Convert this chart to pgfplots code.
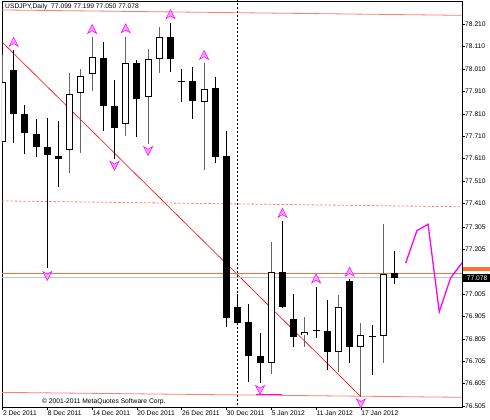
\documentclass[border=0pt]{standalone}
\usepackage{fontspec}
\setmainfont{Liberation Sans}
\usepackage{pgfplots}
\pgfplotsset{compat=1.18}
\usepackage{pgfplotstable}

\definecolor{salmonc}{RGB}{248,128,114}
\definecolor{orangec}{RGB}{255,110,50}
\definecolor{bidgray}{RGB}{195,195,195}
\definecolor{bullwick}{RGB}{100,100,100}
\definecolor{fractal}{RGB}{255,0,255}
\definecolor{fractalfill}{RGB}{255,160,255}

\pgfdeclareplotmark{fup}{%
 \pgfpathmoveto{\pgfqpoint{0pt}{4.5pt}}%
 \pgfpathlineto{\pgfqpoint{4.5pt}{-4.5pt}}%
 \pgfpathlineto{\pgfqpoint{0pt}{-1.8pt}}%
 \pgfpathlineto{\pgfqpoint{-4.5pt}{-4.5pt}}%
 \pgfpathclose\pgfusepathqfillstroke}
\pgfdeclareplotmark{fdown}{%
 \pgfpathmoveto{\pgfqpoint{0pt}{-4.5pt}}%
 \pgfpathlineto{\pgfqpoint{4.5pt}{4.5pt}}%
 \pgfpathlineto{\pgfqpoint{0pt}{1.8pt}}%
 \pgfpathlineto{\pgfqpoint{-4.5pt}{4.5pt}}%
 \pgfpathclose\pgfusepathqfillstroke}

\pgfplotstableread{
i  O      H      L      C
0  77.686 78.073 77.678 77.954
6  77.649 77.994 77.544 77.899
7  77.902 78.009 77.636 77.979
8  77.987 78.155 77.913 78.065
11 77.763 78.155 77.711 78.036
13 77.887 78.098 77.674 78.054
14 78.054 78.197 77.994 78.155
18 77.864 78.036 77.559 77.924
24 76.699 77.236 76.648 77.105
27 76.822 76.901 76.770 76.834
30 76.748 77.001 76.658 76.949
32 76.767 76.874 76.547 76.822
34 76.819 77.317 76.696 77.095
}\bull

\pgfplotstableread{
i  O      H      L      C
1  78.009 78.095 77.681 77.809
2  77.809 77.850 77.629 77.726
3  77.723 77.786 77.616 77.663
4  77.661 77.790 77.120 77.626
5  77.622 77.778 77.485 77.608
9  78.061 78.132 77.733 77.846
10 77.846 77.961 77.607 77.748
12 78.038 78.051 77.708 77.879
15 78.152 78.214 77.998 78.058
16 77.959 78.012 77.864 77.955
17 77.957 78.021 77.786 77.867
19 77.924 77.976 77.592 77.619
20 77.623 77.735 76.857 76.901
21 76.949 77.005 76.867 76.879
22 76.882 76.961 76.614 76.728
23 76.728 76.830 76.607 76.696
25 77.105 77.333 76.941 76.949
26 76.894 77.004 76.767 76.815
28 76.846 77.035 76.808 76.842
29 76.841 76.979 76.666 76.748
31 77.064 77.072 76.696 76.770
33 76.820 76.867 76.644 76.815
35 77.099 77.199 77.050 77.078
}\bear

\newcommand{\mtfont}{\fontsize{6.7}{8}\selectfont}

\begin{document}
\begin{tikzpicture}
\useasboundingbox (-2pt,-13pt) rectangle (488pt,407pt);
\begin{axis}[
  scale only axis, width=460pt, height=406pt,
  at={(0pt,0pt)}, anchor=south west,
  xmin=-0.045, xmax=41.03, ymin=76.5007, ymax=78.314,
  axis line style={black, line width=0.8pt},
  xtick={0,4,8,12,16,20,24,28,32},
  xticklabels={2 Dec 2011,8 Dec 2011,14 Dec 2011,20 Dec 2011,26 Dec 2011,30 Dec 2011,5 Jan 2012,11 Jan 2012,17 Jan 2012},
  xticklabel style={anchor=north west, inner sep=0pt, font=\mtfont, xshift=0.3pt, yshift=-1pt},
  ytick={76.505,76.605,76.705,76.805,76.905,77.005,77.205,77.305,77.410,77.510,77.610,77.710,77.810,77.910,78.010,78.110,78.210},
  yticklabels={76.505,76.605,76.705,76.805,76.905,77.005,77.205,77.305,77.410,77.510,77.610,77.710,77.810,77.910,78.010,78.110,78.210},
  yticklabel pos=right,
  yticklabel style={anchor=west, inner sep=0pt, font=\mtfont},
  xtick pos=left, ytick pos=right,
  tick align=outside, major tick length=3pt,
  tick style={black, line width=0.6pt},
  candle/.style={only marks, mark=*, mark size=0pt, mark options={draw=none, fill=none},
    error bars/.cd, y dir=both, y explicit, error mark=none},
]
% regression channel
\addplot[salmonc, line width=0.8pt] coordinates {(-0.05,78.274) (41.05,78.250)};
\addplot[salmonc, line width=0.8pt, dash pattern=on 2.5pt off 1.8pt] coordinates {(-0.05,77.421) (41.05,77.395)};
\addplot[salmonc, line width=0.8pt] coordinates {(-0.05,76.566) (41.05,76.544)};
% trendline
\addplot[red, line width=0.6pt] coordinates {(-0.045,78.131) (32,76.547)};
% horizontal lines
\addplot[bidgray, line width=0.7pt] coordinates {(-0.05,77.078) (41.05,77.078)};
\addplot[orangec, line width=1.2pt] coordinates {(-0.05,77.097) (41.05,77.097)};
% period separator
\addplot[black, line width=0.6pt, dash pattern=on 2pt off 2pt] coordinates {(21,76.49) (21,78.33)};
% bull candles
\addplot[candle, error bar style={bullwick, line width=1pt}]
  table[x=i, y=O, y error plus expr={\thisrow{H}-\thisrow{O}}, y error minus expr={\thisrow{O}-\thisrow{L}}] {\bull};
\addplot[candle, error bar style={black, line width=7pt}]
  table[x=i, y expr={(\thisrow{O}+\thisrow{C})/2}, y error expr={(\thisrow{C}-\thisrow{O})/2}] {\bull};
\addplot[candle, error bar style={white, line width=5pt}]
  table[x=i, y expr={(\thisrow{O}+\thisrow{C})/2}, y error expr={(\thisrow{C}-\thisrow{O})/2-0.0045}] {\bull};
% bear candles
\addplot[candle, error bar style={black, line width=1pt}]
  table[x=i, y=O, y error plus expr={\thisrow{H}-\thisrow{O}}, y error minus expr={\thisrow{O}-\thisrow{L}}] {\bear};
\addplot[candle, error bar style={black, line width=7pt}]
  table[x=i, y expr={(\thisrow{O}+\thisrow{C})/2}, y error expr={(\thisrow{O}-\thisrow{C})/2}] {\bear};
% fractals
\addplot[only marks, mark=fup, mark options={draw=fractal, fill=fractalfill, line width=0.5pt}]
  coordinates {(1,78.132) (8,78.189) (11,78.192) (15,78.255) (18,78.073) (25,77.368) (28,77.075) (31,77.105)};
\addplot[only marks, mark=fdown, mark options={draw=fractal, fill=fractalfill, line width=0.5pt}]
  coordinates {(4,77.086) (10,77.578) (13,77.644) (23,76.577) (32,76.517)};
% magenta lines
\addplot[fractal, line width=1.3pt] coordinates {(22.6,76.557) (25.0,76.557)};
\addplot[fractal, line width=1.3pt] coordinates {(36,77.143) (37,77.288) (38,77.317) (39,76.926) (40,77.076) (41.03,77.145)};
% anchor coordinates for labels
\coordinate (askpos) at (axis cs:41.03,77.097);
\coordinate (bidpos) at (axis cs:41.03,77.078);
\coordinate (tl) at (rel axis cs:0,1);
\coordinate (bl) at (rel axis cs:0,0);
\end{axis}
\node[anchor=south west, inner sep=0pt, fill=orangec, minimum width=28pt, minimum height=4.5pt, xshift=0.3pt, yshift=2.2pt] at (askpos) {};
\node[anchor=west, inner sep=0pt, fill=black, minimum width=28pt, minimum height=8pt, font=\mtfont, text=white, xshift=0.3pt] at (bidpos) {\,77.078};
\node[anchor=west, inner sep=0pt, font=\mtfont, xshift=3pt, yshift=-5.7pt] at (tl) {USDJPY,Daily\ \ 77.099 77.199 77.050 77.078};
\node[anchor=west, inner sep=0pt, font=\mtfont, xshift=40pt, yshift=5pt] at (bl) {© 2001-2011 MetaQuotes Software Corp.};
\end{tikzpicture}
\end{document}
